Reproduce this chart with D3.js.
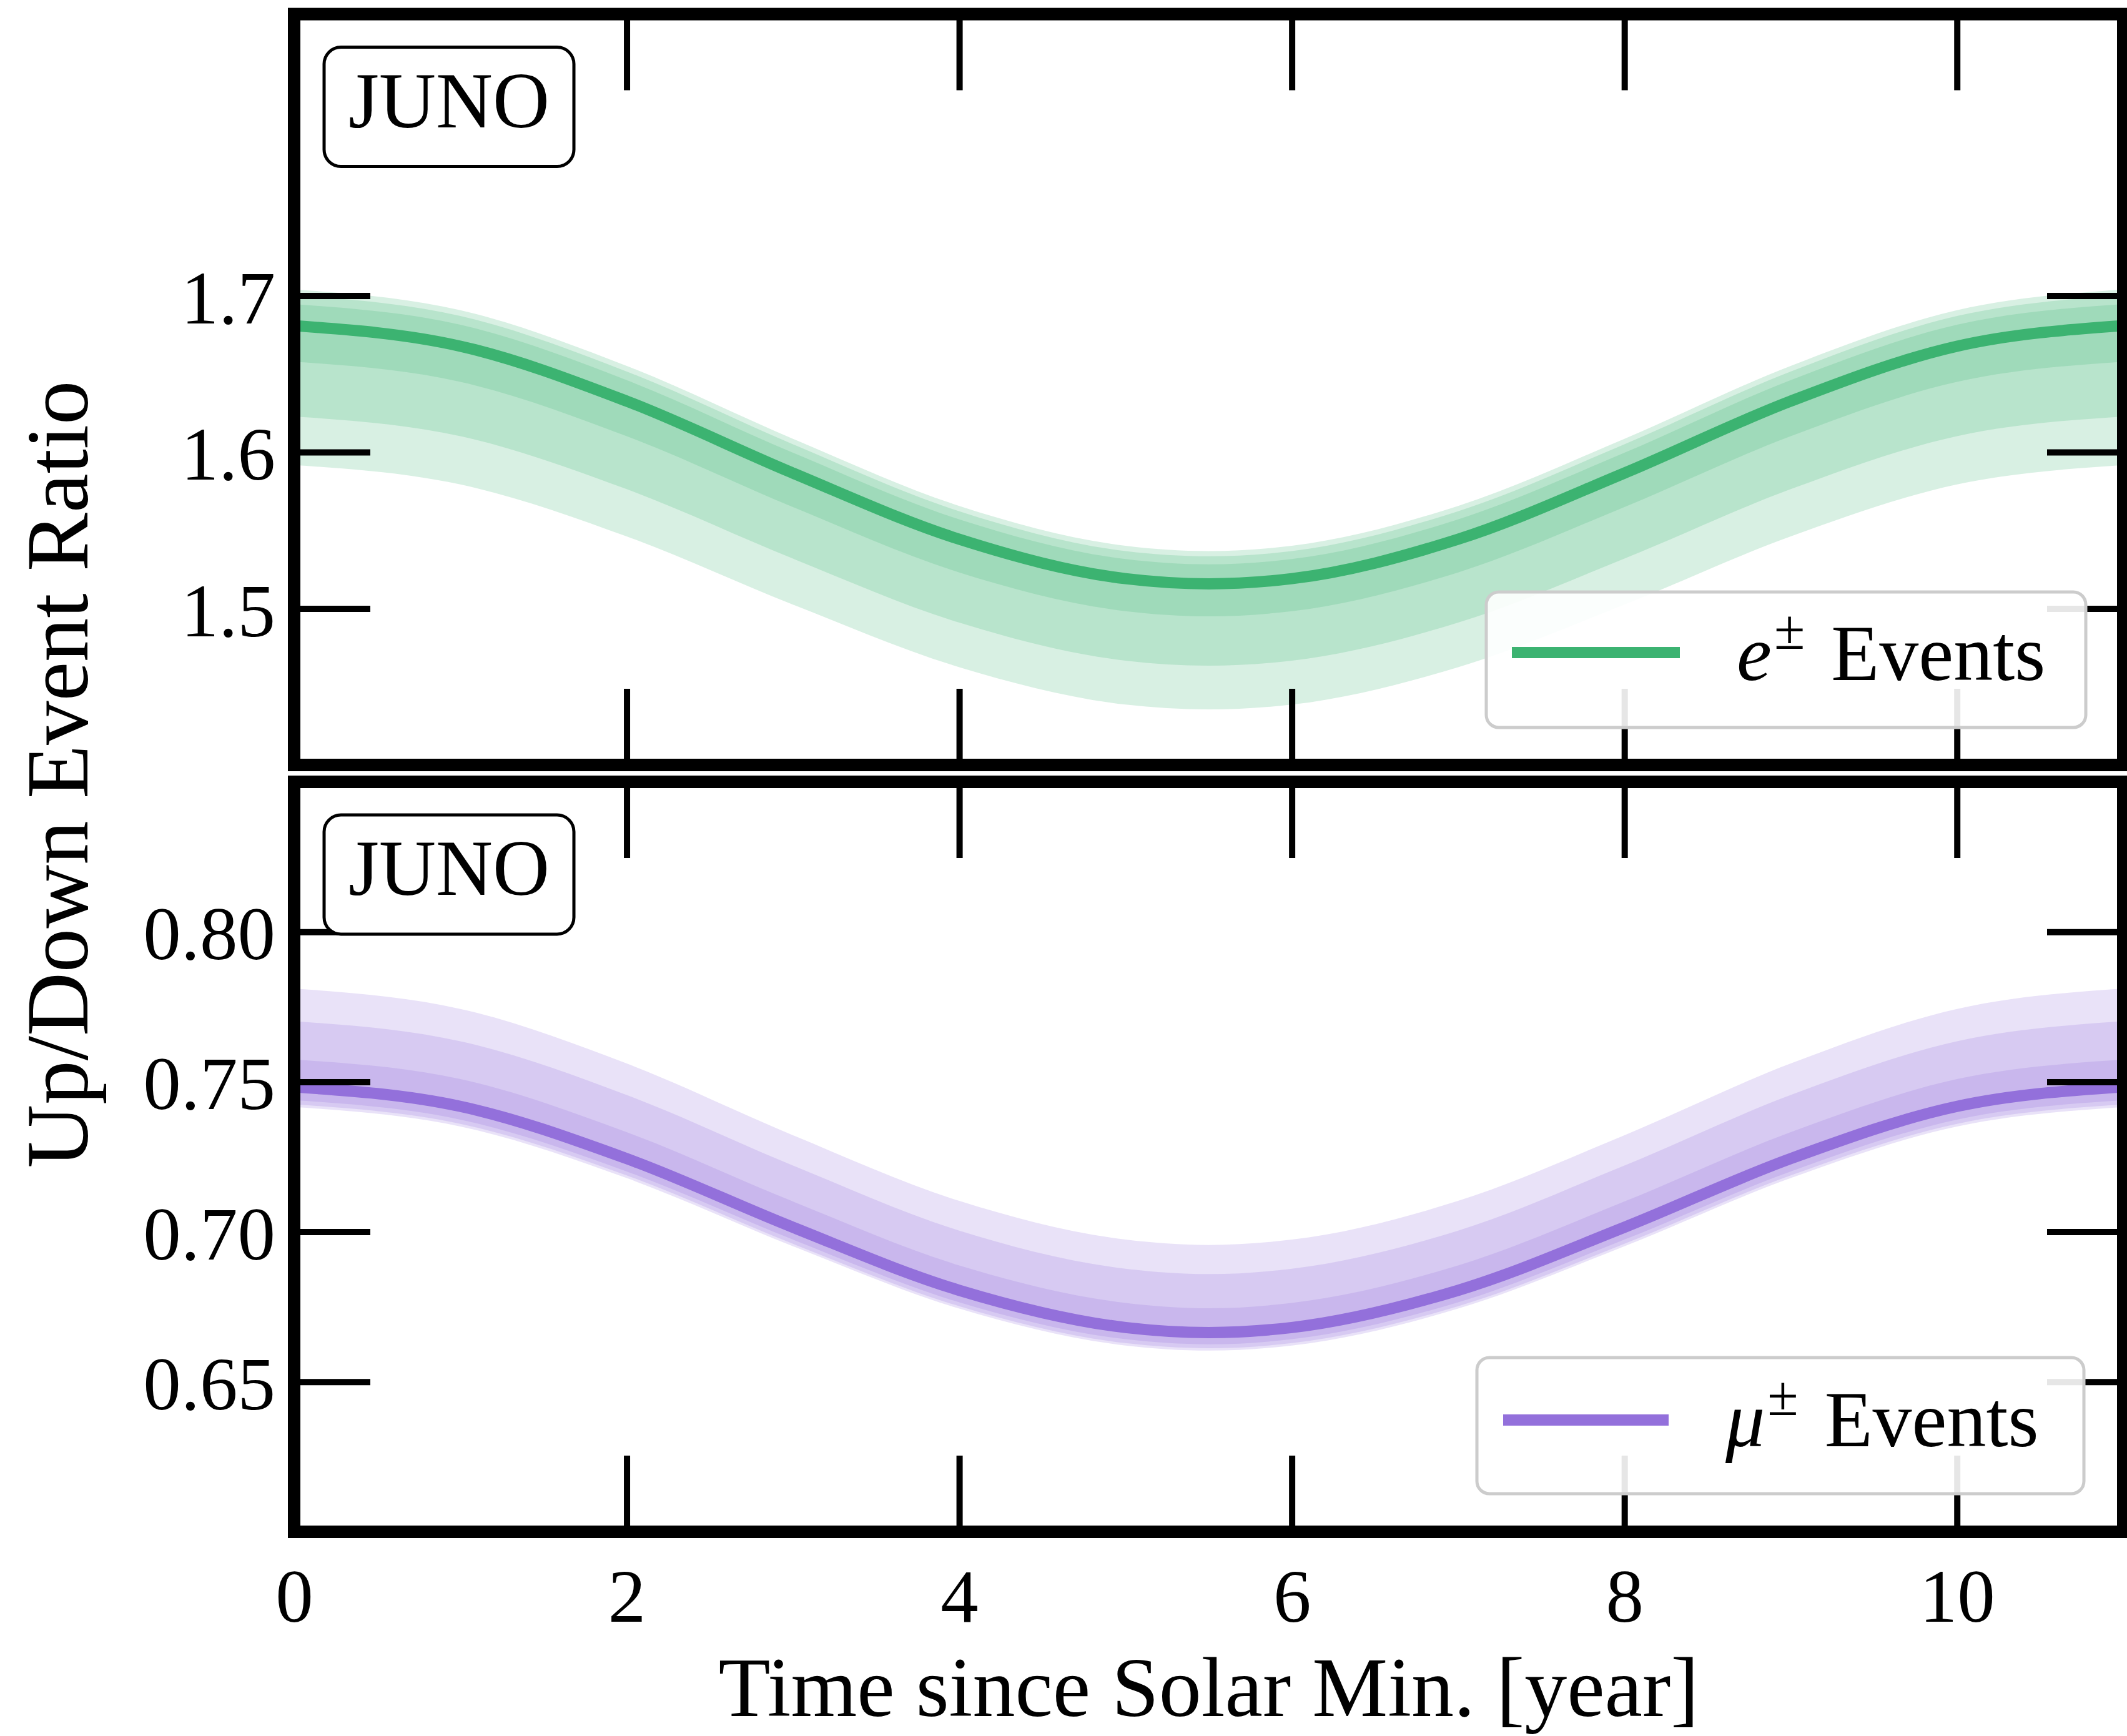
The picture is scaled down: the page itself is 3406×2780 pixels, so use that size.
<!DOCTYPE html>
<html><head><meta charset="utf-8">
<script src="https://cdn.jsdelivr.net/npm/d3@7"></script>
<style>body{margin:0;background:#fff} svg{display:block}</style>
</head><body><svg id="c" width="3406" height="2780"></svg>
<script>
// ---------------- data ----------------
const years = [0, 1, 2, 3, 4, 5, 5.5, 6, 7, 8, 9, 10, 11];
const xTicks = [0, 2, 4, 6, 8, 10];
const eTicks = [1.5, 1.6, 1.7];
const muTicks = [0.65, 0.70, 0.75, 0.80];

// e± events (top panel)
const eCentral = [1.6808, 1.6677, 1.6326, 1.5866, 1.5443, 1.5191, 1.5158, 1.5191, 1.5443, 1.5866, 1.6326, 1.6677, 1.6808];
const eOuterHi = [1.7040, 1.6907, 1.6551, 1.6085, 1.5656, 1.5401, 1.5367, 1.5401, 1.5656, 1.6085, 1.6551, 1.6907, 1.7040];
const eOuterLo = [1.5917, 1.5793, 1.5461, 1.5025, 1.4625, 1.4386, 1.4355, 1.4386, 1.4625, 1.5025, 1.5461, 1.5793, 1.5917];
const eMidHi   = [1.7003, 1.6870, 1.6515, 1.6050, 1.5622, 1.5367, 1.5334, 1.5367, 1.5622, 1.6050, 1.6515, 1.6870, 1.7003];
const eMidLo   = [1.6228, 1.6102, 1.5763, 1.5319, 1.4910, 1.4667, 1.4635, 1.4667, 1.4910, 1.5319, 1.5763, 1.6102, 1.6228];
const eInnerHi = [1.6946, 1.6814, 1.6460, 1.5996, 1.5570, 1.5316, 1.5282, 1.5316, 1.5570, 1.5996, 1.6460, 1.6814, 1.6946];
const eInnerLo = [1.6578, 1.6449, 1.6102, 1.5649, 1.5231, 1.4983, 1.4950, 1.4983, 1.5231, 1.5649, 1.6102, 1.6449, 1.6578];

// mu± events (bottom panel)
const muCentral = [0.7483, 0.7418, 0.7244, 0.7015, 0.6805, 0.6681, 0.6664, 0.6681, 0.6805, 0.7015, 0.7244, 0.7418, 0.7483];
const muOuterHi = [0.7811, 0.7743, 0.7561, 0.7322, 0.7103, 0.6974, 0.6956, 0.6974, 0.7103, 0.7322, 0.7561, 0.7743, 0.7811];
const muOuterLo = [0.7416, 0.7351, 0.7179, 0.6952, 0.6744, 0.6621, 0.6604, 0.6621, 0.6744, 0.6952, 0.7179, 0.7351, 0.7416];
const muMidHi   = [0.7702, 0.7635, 0.7456, 0.7221, 0.7004, 0.6877, 0.6859, 0.6877, 0.7004, 0.7221, 0.7456, 0.7635, 0.7702];
const muMidLo   = [0.7425, 0.7360, 0.7188, 0.6960, 0.6752, 0.6629, 0.6612, 0.6629, 0.6752, 0.6960, 0.7188, 0.7360, 0.7425];
const muInnerHi = [0.7574, 0.7509, 0.7332, 0.7101, 0.6888, 0.6763, 0.6745, 0.6763, 0.6888, 0.7101, 0.7332, 0.7509, 0.7574];
const muInnerLo = [0.7439, 0.7374, 0.7201, 0.6974, 0.6765, 0.6642, 0.6625, 0.6642, 0.6765, 0.6974, 0.7201, 0.7374, 0.7439];

// ---------------- layout ----------------
const FONT = '"Liberation Serif","DejaVu Serif",serif';
const svg = d3.select('#c');
const X0 = 471, X1 = 3400;
const x = d3.scaleLinear().domain([0, 11]).range([X0, X1]);

const panels = [
  {top: 22.6, bottom: 1225, domain: [1.4, 1.88], ticks: eTicks, fmt: d3.format('.1f'),
   color: 'rgb(60,179,113)', central: eCentral,
   bands: [[eOuterLo, eOuterHi], [eMidLo, eMidHi], [eInnerLo, eInnerHi]],
   legend: {x: 2380, y: 948, w: 960, h: 217, lx1: 2421, lx2: 2690, ly: 1045, tx: 2781, ty: 1089, sym: 'e'},
   xLabels: false},
  {top: 1252, bottom: 2453, domain: [0.60, 0.85], ticks: muTicks, fmt: d3.format('.2f'),
   color: 'rgb(147,112,219)', central: muCentral,
   bands: [[muOuterLo, muOuterHi], [muMidLo, muMidHi], [muInnerLo, muInnerHi]],
   legend: {x: 2365, y: 2174, w: 972, h: 218, lx1: 2407, lx2: 2672, ly: 2274, tx: 2763, ty: 2316, sym: 'μ'},
   xLabels: true}
];

const TICKLEN = 122, TICKW = 10, SPINEW = 20, FS = 121;

panels.forEach((p, i) => {
  const y = d3.scaleLinear().domain(p.domain).range([p.bottom, p.top]);
  const g = svg.append('g');
  const clipId = 'clip' + i;
  svg.append('clipPath').attr('id', clipId).append('rect')
    .attr('x', X0).attr('y', p.top).attr('width', X1 - X0).attr('height', p.bottom - p.top);

  // bands
  const bandG = g.append('g').attr('clip-path', `url(#${clipId})`);
  p.bands.forEach(([lo, hi]) => {
    const area = d3.area()
      .x((d, k) => x(years[k]))
      .y0((d, k) => y(lo[k]))
      .y1((d, k) => y(hi[k]))
      .curve(d3.curveMonotoneX);
    bandG.append('path').datum(years).attr('d', area)
      .attr('fill', p.color).attr('fill-opacity', 0.2);
  });
  // central line
  const line = d3.line().x((d, k) => x(years[k])).y(d => y(d)).curve(d3.curveMonotoneX);
  bandG.append('path').datum(p.central).attr('d', line)
    .attr('fill', 'none').attr('stroke', p.color).attr('stroke-width', 18);

  // axes (inward ticks on all four sides)
  const styleAxis = sel => {
    sel.select('.domain').remove();
    sel.selectAll('.tick line').attr('stroke', '#000').attr('stroke-width', TICKW);
    sel.selectAll('.tick text').attr('font-family', FONT).attr('font-size', FS).attr('fill', '#000');
  };
  g.append('g').attr('transform', `translate(${X0},0)`)
    .call(d3.axisLeft(y).tickValues(p.ticks).tickFormat(p.fmt).tickSize(-TICKLEN).tickPadding(30))
    .call(styleAxis)
    .selectAll('.tick text').attr('dy', '0.36em');
  g.append('g').attr('transform', `translate(${X1},0)`)
    .call(d3.axisRight(y).tickValues(p.ticks).tickFormat('').tickSize(-TICKLEN))
    .call(styleAxis);
  g.append('g').attr('transform', `translate(0,${p.top})`)
    .call(d3.axisTop(x).tickValues(xTicks).tickFormat('').tickSize(-TICKLEN))
    .call(styleAxis);
  g.append('g').attr('transform', `translate(0,${p.bottom})`)
    .call(d3.axisBottom(x).tickValues(xTicks).tickFormat(p.xLabels ? d3.format('d') : '').tickSize(-TICKLEN).tickPadding(58))
    .call(styleAxis);

  // spines
  g.append('rect').attr('x', X0).attr('y', p.top).attr('width', X1 - X0).attr('height', p.bottom - p.top)
    .attr('fill', 'none').attr('stroke', '#000').attr('stroke-width', SPINEW);

  // JUNO box
  const jb = g.append('g');
  jb.append('rect').attr('x', 519).attr('y', p.top + 53).attr('width', 400).attr('height', 191)
    .attr('rx', 27).attr('ry', 27).attr('fill', '#fff').attr('stroke', '#000').attr('stroke-width', 5);
  jb.append('text').attr('x', 719).attr('y', p.top + 181).attr('text-anchor', 'middle')
    .attr('font-family', FONT).attr('font-size', 126).text('JUNO');

  // legend
  const L = p.legend;
  const lg = g.append('g');
  lg.append('rect').attr('x', L.x).attr('y', L.y).attr('width', L.w).attr('height', L.h)
    .attr('rx', 20).attr('ry', 20).attr('fill', '#fff').attr('fill-opacity', 0.9)
    .attr('stroke', '#cccccc').attr('stroke-width', 5);
  lg.append('line').attr('x1', L.lx1).attr('x2', L.lx2).attr('y1', L.ly).attr('y2', L.ly)
    .attr('stroke', p.color).attr('stroke-width', 18);
  const t = lg.append('text').attr('x', L.tx).attr('y', L.ty)
    .attr('font-family', FONT).attr('font-size', 126);
  t.append('tspan').attr('font-style', 'italic').text(L.sym);
  t.append('tspan').attr('font-size', 90).attr('dy', -50).attr('dx', 4).text('±');
  t.append('tspan').attr('dy', 50).attr('dx', 42).text('Events');
});

// axis titles
svg.append('text').attr('x', (X0 + X1) / 2).attr('y', 2748).attr('text-anchor', 'middle')
  .attr('font-family', FONT).attr('font-size', 136).text('Time since Solar Min. [year]');
svg.append('text').attr('transform', 'translate(140,1240) rotate(-90)').attr('text-anchor', 'middle')
  .attr('font-family', FONT).attr('font-size', 141).text('Up/Down Event Ratio');
</script>
</body></html>
